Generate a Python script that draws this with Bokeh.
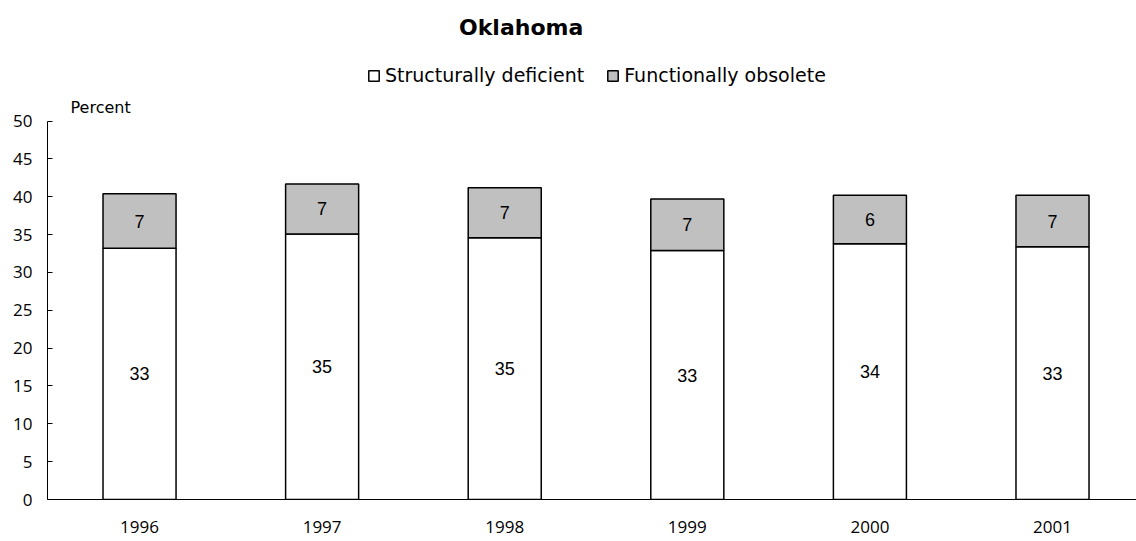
from bokeh.plotting import figure
from bokeh.models import Range1d, ColumnDataSource, Label, LabelSet, Legend, LegendItem, FixedTicker
from bokeh.embed import file_html
from bokeh.resources import INLINE
from bokeh.core.properties import value

years = ["1996", "1997", "1998", "1999", "2000", "2001"]
structurally_deficient = [33.2, 35.1, 34.6, 32.9, 33.8, 33.4]
functionally_obsolete = [7.2, 6.6, 6.6, 6.8, 6.4, 6.8]
y_ticks = [0, 5, 10, 15, 20, 25, 30, 35, 40, 45, 50]

x = list(range(len(years)))
tops = [a + b for a, b in zip(structurally_deficient, functionally_obsolete)]

src = ColumnDataSource(dict(
    x=x,
    sd=structurally_deficient,
    fo=functionally_obsolete,
    top=tops,
    sd_mid=[v / 2 for v in structurally_deficient],
    fo_mid=[a + b / 2 for a, b in zip(structurally_deficient, functionally_obsolete)],
    sd_lab=[str(int(v + 0.5)) for v in structurally_deficient],
    fo_lab=[str(int(v + 0.5)) for v in functionally_obsolete],
))

FONT = "Open Sans"
TFONT = "DejaVu Sans"

p = figure(width=1136, height=540,
           x_range=Range1d(-0.504, 5.46), y_range=Range1d(0, 65.94),
           output_backend="svg", toolbar_location=None,
           min_border_left=47, min_border_right=0,
           min_border_top=0, min_border_bottom=41)
p.outline_line_color = None
p.xgrid.grid_line_color = None
p.ygrid.grid_line_color = None
p.background_fill_color = "white"

r1 = p.vbar(x="x", width=0.40, bottom=0, top="sd", source=src,
            fill_color="white", line_color="black", line_width=1.5)
r2 = p.vbar(x="x", width=0.40, bottom="sd", top="top", source=src,
            fill_color="#C0C0C0", line_color="black", line_width=1.5)

p.add_layout(LabelSet(x="x", y="sd_mid", text="sd_lab", source=src,
                      text_align="center", text_baseline="middle",
                      text_font=value("Liberation Sans"), text_font_size="18px",
                      text_color="black"))
p.add_layout(LabelSet(x="x", y="fo_mid", text="fo_lab", source=src,
                      text_align="center", text_baseline="middle",
                      text_font=value("Liberation Sans"), text_font_size="18px",
                      text_color="black"))

# axes
p.yaxis.ticker = FixedTicker(ticks=y_ticks)
p.yaxis.bounds = (0, 50)
p.yaxis.major_tick_in = 5
p.yaxis.major_tick_out = 0
p.yaxis.minor_tick_line_color = None
p.yaxis.axis_line_color = "black"
p.yaxis.major_label_text_font = FONT
p.yaxis.major_label_text_font_size = "17px"
p.yaxis.major_label_text_color = "black"
p.yaxis.major_label_standoff = 15

p.xaxis.ticker = FixedTicker(ticks=x)
p.xaxis.major_label_overrides = {i: y for i, y in zip(x, years)}
p.xaxis.major_tick_line_color = None
p.xaxis.minor_tick_line_color = None
p.xaxis.axis_line_color = "black"
p.xaxis.major_label_text_font = FONT
p.xaxis.major_label_text_font_size = "17px"
p.xaxis.major_label_text_color = "black"
p.xaxis.major_label_standoff = 15

# title and unit label
p.add_layout(Label(x=2.09, y=62.4, text="Oklahoma", text_align="center",
                   text_baseline="middle", text_font=TFONT, text_font_style="bold",
                   text_font_size="22px", text_color="black"))
p.add_layout(Label(x=-0.378, y=51.8, text="Percent", text_align="left",
                   text_baseline="middle", text_font=TFONT,
                   text_font_size="16px", text_color="black"))

legend = Legend(items=[LegendItem(label="Structurally deficient", renderers=[r1]),
                       LegendItem(label="Functionally obsolete", renderers=[r2])],
                orientation="horizontal", location=(320, 413),
                glyph_width=13, glyph_height=13, label_standoff=5, spacing=22,
                padding=0, margin=0, border_line_alpha=0, background_fill_alpha=0,
                label_text_font=TFONT, label_text_font_size="19px", label_text_color="black")
p.add_layout(legend, "center")

open("out.html", "w").write(file_html(p, INLINE))
